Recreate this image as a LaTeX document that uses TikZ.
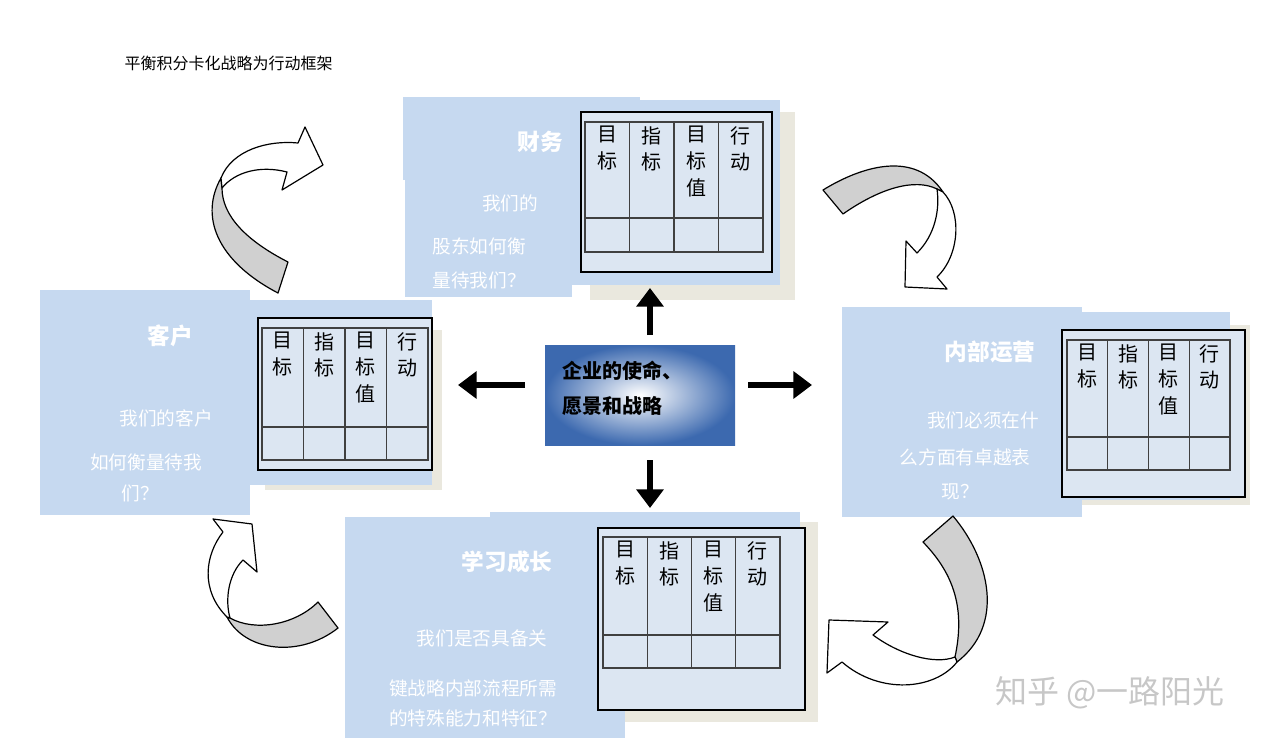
\documentclass[tikz,border=0pt]{standalone}
\usepackage{fontspec}
\setmainfont{Liberation Sans}
\newfontfamily\cjk{Noto Sans CJK SC}
\usetikzlibrary{arrows.meta}
\definecolor{pblue}{RGB}{198,217,240}
\definecolor{tblue}{RGB}{220,230,242}
\definecolor{beige}{RGB}{234,232,222}
\definecolor{cblue}{RGB}{60,105,175}
\definecolor{band}{RGB}{208,208,208}
\newcommand\bsctab[6]{% x0 y0 colw ysplit ybottom name
  \foreach \i/\t in {1/{目\\标},2/{指\\标},3/{目\\标\\值},4/{行\\动}}{
    \node[cell] (#6c\i) at ({#1+(\i-0.5)*#3},{#2+4}) {\t};}
  \draw[gridl] (#1,#2) rectangle ({#1+4*#3},#5);
  \draw[gridl] (#1,#4) -- ({#1+4*#3},#4);
  \foreach \i in {1,2,3}{\draw[gridl] ({#1+\i*#3},#2) -- ({#1+\i*#3},#5);}
}
\begin{document}
\begin{tikzpicture}[x=0.75pt,y=-0.75pt,font=\cjk,
  panel/.style={fill=pblue,draw=none},
  shadow/.style={fill=beige,draw=none},
  tbox/.style={fill=tblue,draw=black,line width=1.3pt},
  gridl/.style={draw=black!75,line width=0.8pt},
  cell/.style={anchor=north,align=center,font=\cjk\fontsize{15}{20}\selectfont,inner sep=0pt},
  ptitle/.style={text=white,font=\cjk\bfseries\fontsize{17}{20}\selectfont},
  ptext/.style={text=white,font=\cjk\fontsize{14}{18}\selectfont},
  bigarrow/.style={line width=5pt,-{Triangle[length=14pt,width=20pt]}},
  bandst/.style={fill=band,draw=black,line width=0.9pt,line join=round},
  whitest/.style={fill=white,draw=black,line width=0.9pt,line join=round}]
\useasboundingbox (0,0) rectangle (1279,746);
\node[anchor=west,font=\cjk\fontsize{12}{14}\selectfont] (title) at (120,63) {平衡积分卡化战略为行动框架};

% Finance
\fill[shadow] (590,112) rectangle (795,300);
\fill[panel] (403,97) rectangle (640,180);
\fill[panel] (405,180) rectangle (572,297);
\fill[panel] (572,100) rectangle (780,285);
\draw[tbox] (581,112) rectangle (772,272);
\bsctab{585}{122}{44.5}{218}{252}{fin}
\node[ptitle] (fint) at (540,142) {财务};
\node[ptext] (fin1) at (510,203) {我们的};
\node[ptext] (fin2) at (479,246) {股东如何衡};
\node[ptext] (fin3) at (479,280) {量待我们？};

% Customer
\fill[shadow] (265,330) rectangle (442,490);
\fill[panel] (40,290) rectangle (250,515);
\fill[panel] (250,300) rectangle (432,485);
\draw[tbox] (258,318) rectangle (432,470);
\bsctab{262}{328}{41.5}{427}{460}{cus}
\node[ptitle] (cust) at (170,336) {客户};
\node[ptext] (cus1) at (166,418) {我们的客户};
\node[ptext] (cus2) at (146,462) {如何衡量待我};
\node[ptext] (cus3) at (140,493) {们？};

% Internal
\fill[shadow] (1070,325) rectangle (1250,505);
\fill[panel] (842,307) rectangle (1082,517);
\fill[panel] (1082,312) rectangle (1230,500);
\draw[tbox] (1062,330) rectangle (1245,497);
\bsctab{1067}{340}{40.75}{437}{470}{int}
\node[ptitle] (intt) at (990,352) {内部运营};
\node[ptext] (int1) at (983,420) {我们必须在什};
\node[ptext] (int2) at (965,457) {么方面有卓越表};
\node[ptext] (int3) at (960,492) {现？};

% Learning
\fill[shadow] (610,522) rectangle (818,722);
\fill[panel] (345,517) rectangle (625,738);
\fill[panel] (490,512) rectangle (800,705);
\draw[tbox] (598,528) rectangle (805,710);
\bsctab{603}{537}{44.25}{635}{668}{lea}
\node[ptitle] (leat) at (507,562) {学习成长};
\node[ptext] (lea1) at (482,638) {我们是否具备关};
\node[ptext] (lea2) at (473,688) {键战略内部流程所需};
\node[ptext] (lea3) at (473,718) {的特殊能力和特征？};

% Center
\shade[inner color=white,outer color=cblue] (545,345) rectangle (735,445);
\node[anchor=west,align=left,font=\cjk\bfseries\fontsize{15}{26}\selectfont] (center) at (558,388) {企业的使命、\\愿景和战略};
\coordinate (cu) at (650,335); \coordinate (cu2) at (650,288);
\coordinate (cd) at (650,460); \coordinate (cd2) at (650,508);
\coordinate (cl) at (525,385); \coordinate (cl2) at (458,385);
\coordinate (cr) at (748,385); \coordinate (cr2) at (812,385);
\draw[bigarrow] (cu) -- (cu2);
\draw[bigarrow] (cd) -- (cd2);
\draw[bigarrow] (cl) -- (cl2);
\draw[bigarrow] (cr) -- (cr2);

% Curved arrows
% top-left
\draw[bandst] (221,178) .. controls (200,215) and (215,260) .. (278,293) -- (288,262) .. controls (245,240) and (222,215) .. (222,188) -- cycle;
\draw[whitest] (221,178) .. controls (232,150) and (268,140) .. (298,143) -- (305,127) -- (323,165) -- (282,190) -- (287,172) .. controls (260,165) and (235,172) .. (222,188) -- cycle;
% top-right
\draw[bandst] (823,190) .. controls (862,166) and (915,150) .. (943,192) -- (937,189) .. controls (915,178) and (880,188) .. (843,214) -- cycle;
\draw[whitest] (943,192) .. controls (962,212) and (960,255) .. (937,277) -- (947,289) -- (905,287) -- (906,241) -- (917,253) .. controls (935,235) and (940,210) .. (937,189) -- cycle;
% bottom-right
\draw[bandst] (923,542) -- (953,516) .. controls (990,560) and (1005,625) .. (957,662) -- (955,657) .. controls (965,610) and (955,575) .. (923,542) -- cycle;
\draw[whitest] (957,662) .. controls (935,690) and (880,695) .. (842,662) -- (827,673) -- (829,620) -- (888,622) -- (873,635) .. controls (900,655) and (935,665) .. (955,657) -- cycle;
% bottom-left
\draw[bandst] (318,602) -- (338,628) .. controls (300,658) and (245,652) .. (227,617) -- (230,618) .. controls (255,632) and (295,625) .. (318,602) -- cycle;
\draw[whitest] (227,617) .. controls (200,590) and (205,555) .. (223,532) -- (213,519) -- (252,524) -- (257,572) -- (243,560) .. controls (228,575) and (225,600) .. (230,618) -- cycle;

\node[text=black!22,font=\cjk\fontsize{24}{28}\selectfont] (wm) at (1110,693) {知乎 @一路阳光};
\end{tikzpicture}
\end{document}
